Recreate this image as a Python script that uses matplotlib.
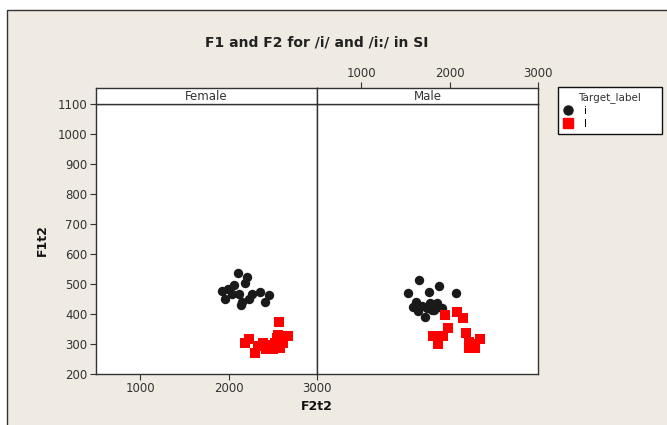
import matplotlib.pyplot as plt
from matplotlib.patches import Rectangle
from matplotlib.lines import Line2D

# data (F2t2 on x, F1t2 on y)
female_i_x = [2101, 2206, 2188, 2056, 1924, 1961, 2113, 2150, 2140, 2263, 2359, 2455, 2416, 2227, 2037, 1990]
female_i_y = [537, 524, 502, 497, 477, 451, 468, 440, 429, 468, 474, 463, 440, 451, 468, 482]
female_I_x = [2571, 2232, 2184, 2297, 2390, 2421, 2523, 2560, 2673, 2579, 2504, 2617, 2466, 2330, 2636, 2545]
female_I_y = [374, 316, 304, 269, 304, 282, 302, 330, 327, 286, 282, 302, 297, 293, 327, 320]

male_i_x = [1653, 1528, 1771, 1879, 2071, 1619, 1687, 1777, 1856, 1909, 1645, 1720, 1796, 1588, 1822, 1743]
male_i_y = [512, 469, 474, 495, 469, 441, 428, 437, 438, 419, 410, 391, 413, 424, 413, 420]
male_I_x = [1946, 2085, 2146, 1984, 1814, 1927, 1871, 2184, 2221, 2342, 2221, 2285, 2266]
male_I_y = [397, 406, 386, 352, 328, 328, 299, 336, 308, 316, 288, 288, 299]

panels = ["Female", "Male"]
x_ticks = [1000, 2000, 3000]
y_ticks = [200, 300, 400, 500, 600, 700, 800, 900, 1000, 1100]

bg = "#EFEBE2"
dark = "#333333"

fig = plt.figure(figsize=(6.67, 4.25), dpi=100)
fig.patch.set_facecolor("white")
fig.add_artist(Rectangle((7 / 667, -0.01), 1.0, 1 - 10 / 425 + 0.01, transform=fig.transFigure,
                         facecolor=bg, edgecolor=dark, linewidth=1.0, zorder=-1))

W, H = 667, 425
def box(x0, y0, x1, y1):
    return [x0 / W, 1 - y1 / H, (x1 - x0) / W, (y1 - y0) / H]

ax_f = fig.add_axes(box(96, 104, 317, 374))
ax_m = fig.add_axes(box(317, 104, 538, 374))
st_f = fig.add_axes(box(96, 88, 317, 104))
st_m = fig.add_axes(box(317, 88, 538, 104))

data = [(female_i_x, female_i_y, female_I_x, female_I_y),
        (male_i_x, male_i_y, male_I_x, male_I_y)]

for ax, (ix, iy, Ix, Iy) in zip([ax_f, ax_m], data):
    ax.scatter(ix, iy, s=46, c="#1a1a1a", marker="o", linewidths=0, zorder=3)
    ax.scatter(Ix, Iy, s=44, c="#ff0000", marker="s", linewidths=0, zorder=3)
    ax.set_xlim(500, 3000)
    ax.set_ylim(200, 1100)
    ax.set_facecolor("white")
    for sp in ax.spines.values():
        sp.set_color(dark)
        sp.set_linewidth(1.0)

ax_f.set_xticks(x_ticks)
ax_f.set_yticks(y_ticks)
ax_f.tick_params(direction="out", length=4, color=dark, labelcolor=dark, labelsize=8.5, pad=2)
ax_m.set_xticks([])
ax_m.set_yticks([])

for st, name in zip([st_f, st_m], panels):
    st.set_xlim(500, 3000)
    st.set_ylim(0, 1)
    st.set_facecolor("white")
    st.set_yticks([])
    st.set_xticks([])
    for sp in st.spines.values():
        sp.set_color(dark)
        sp.set_linewidth(1.0)
    st.text(0.5, 0.45, name, transform=st.transAxes, ha="center", va="center",
            fontsize=8.5, color=dark)

st_m.xaxis.tick_top()
st_m.set_xticks(x_ticks)
st_m.tick_params(axis="x", direction="out", length=4, color=dark, labelcolor=dark, labelsize=8.5, pad=2)

fig.text(317 / W, 1 - 42 / H, "F1 and F2 for /i/ and /i:/ in SI", ha="center", va="center",
         fontsize=10, fontweight="bold", color="#222222")
fig.text(317 / W, 1 - 407 / H, "F2t2", ha="center", va="center",
         fontsize=9, fontweight="bold", color="#111111")
fig.text(42 / W, 1 - 240 / H, "F1t2", ha="center", va="center", rotation=90,
         fontsize=9, fontweight="bold", color="#111111")

handles = [Line2D([], [], marker="o", linestyle="", color="#1a1a1a", markersize=6.5),
           Line2D([], [], marker="s", linestyle="", color="#ff0000", markersize=6.5)]
leg = fig.legend(handles, ["i", "I"], title="Target_label", loc="upper left",
                 bbox_to_anchor=(558 / W, 1 - 135 / H, 104 / W, 48 / H), mode="expand",
                 borderaxespad=0, fontsize=7.5, title_fontsize=7.5,
                 frameon=True, fancybox=False, edgecolor="#111111", framealpha=1,
                 handletextpad=1.0, handlelength=1.0, borderpad=0.45, labelspacing=0.3)
leg.get_frame().set_linewidth(1.0)
leg.get_title().set_color(dark)

fig.savefig("out.png", dpi=100, facecolor=fig.get_facecolor())
